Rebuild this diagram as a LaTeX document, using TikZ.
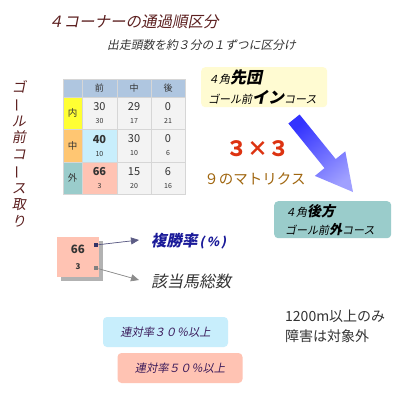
\documentclass[tikz,border=0pt]{standalone}
\usepackage{fontspec}
\usepackage{graphicx}
\newfontfamily\jp{Noto Sans CJK JP}
\newfontfamily\jpit[FakeSlant=0.2]{Noto Sans CJK JP}
\usetikzlibrary{arrows.meta,positioning,shadows}
\definecolor{titlered}{HTML}{5C1F1F}
\definecolor{darktext}{HTML}{333333}
\definecolor{headblue}{HTML}{AFC6E0}
\definecolor{cellgray}{HTML}{F3F3F3}
\definecolor{cellline}{HTML}{D6D6D6}
\definecolor{innyellow}{HTML}{FFFF33}
\definecolor{midorange}{HTML}{FFC672}
\definecolor{outteal}{HTML}{9ACCCB}
\definecolor{hiblue}{HTML}{C8EEFC}
\definecolor{hisalmon}{HTML}{FFC3B3}
\definecolor{paleyellow}{HTML}{FFFBD2}
\definecolor{mxred}{HTML}{DD3311}
\definecolor{mxbrown}{HTML}{A0660F}
\definecolor{arrowdark}{HTML}{3333FF}
\definecolor{arrowlight}{HTML}{A0A0FF}
\definecolor{rateblue}{HTML}{1A1A99}
\definecolor{markernavy}{HTML}{333366}
\definecolor{boxpurple}{HTML}{3A1A5A}
\tikzset{
  hdcell/.style={draw=cellline,fill=headblue,minimum height=18pt,inner sep=0pt,
    text=darktext,font=\jp\fontsize{9}{9}\selectfont},
  numcell/.style={draw=cellline,fill=cellgray,minimum width=34pt,minimum height=32.5pt,
    inner sep=0pt,align=center,text=darktext,font=\jp\fontsize{11}{13}\selectfont},
  rowlabel/.style={draw=cellline,minimum width=19pt,minimum height=32.5pt,inner sep=0pt,
    text=darktext,font=\jp\fontsize{9.5}{10}\selectfont},
  groupbox/.style={rounded corners=4pt,anchor=north west,align=left,
    inner ysep=0pt,text=black,font=\jpit\fontsize{11}{20}\selectfont},
  ratebox/.style={rounded corners=4pt,minimum width=125pt,minimum height=30pt,
    inner sep=0pt,text=boxpurple,font=\jpit\fontsize{11.3}{12}\selectfont},
  legarrow/.style={-{Triangle[length=8pt,width=7pt]},line width=0.7pt}
}
\newcommand{\cellval}[2]{#1\\{\fontsize{7}{13}\selectfont #2}}
\begin{document}
\begin{tikzpicture}[x=1pt,y=-1pt]
\useasboundingbox[fill=white] (0,0) rectangle (400,400);
% titles
\node[anchor=west,inner sep=0pt,text=titlered,font=\jpit\fontsize{15.5}{16}\selectfont]
  (title) at (48,22) {４コーナーの通過順区分};
\node[anchor=west,inner sep=0pt,text=darktext,font=\jpit\fontsize{11.8}{12}\selectfont]
  (subtitle) at (107,45) {出走頭数を約３分の１ずつに区分け};
\node[align=center,inner sep=0pt,text=titlered,font=\jpit\fontsize{14}{16.7}\selectfont]
  (side) at (19,154) {ゴ\\\rotatebox[origin=c]{90}{ー}\\ル\\前\\コ\\\rotatebox[origin=c]{90}{ー}\\ス\\取\\り};
% table
\node[hdcell,minimum width=19pt] (h0) at (72.5,88) {};
\node[hdcell,minimum width=35pt] (h1) at (99.5,88) {前};
\node[hdcell,minimum width=34pt] (h2) at (134,88) {中};
\node[hdcell,minimum width=34pt] (h3) at (168,88) {後};
\node[rowlabel,fill=innyellow] (r1) at (72.5,113) {内};
\node[rowlabel,fill=midorange] (r2) at (72.5,145.5) {中};
\node[rowlabel,fill=outteal] (r3) at (72.5,178) {外};
\node[numcell,minimum width=35pt] (c11) at (99.5,113) {\cellval{30}{30}};
\node[numcell] (c12) at (134,113) {\cellval{29}{17}};
\node[numcell] (c13) at (168,113) {\cellval{0}{21}};
\node[numcell,minimum width=35pt,fill=hiblue] (c21) at (99.5,145.5) {\cellval{\textbf{40}}{10}};
\node[numcell] (c22) at (134,145.5) {\cellval{30}{10}};
\node[numcell] (c23) at (168,145.5) {\cellval{0}{6}};
\node[numcell,minimum width=35pt,fill=hisalmon] (c31) at (99.5,178) {\cellval{\textbf{66}}{3}};
\node[numcell] (c32) at (134,178) {\cellval{15}{20}};
\node[numcell] (c33) at (168,178) {\cellval{6}{16}};
% corner groups and big arrow
\node[groupbox,fill=paleyellow,minimum width=126pt,minimum height=40pt,text width=112pt,inner xsep=7pt]
  (front) at (201,67) {４角{\bfseries\fontsize{16}{20}\selectfont 先団}\\ゴール前{\bfseries\fontsize{16}{20}\selectfont イン}コース};
\node[groupbox,fill=outteal,minimum width=117pt,minimum height=37pt,text width=95pt,inner xsep=11pt,
  font=\jpit\fontsize{11}{18}\selectfont]
  (back) at (274,201) {４角{\bfseries\fontsize{14}{18}\selectfont 後方}\\ゴール前{\bfseries\fontsize{13}{18}\selectfont 外}コース};
\shade[top color=arrowdark,bottom color=arrowlight,shading angle=39]
  (299.6,114.5) -- (335.7,159.1) -- (345.3,151.3) -- (353,192)
  -- (314.9,175.9) -- (324.5,168.1) -- (288.4,123.5) -- cycle;
\node[inner sep=0pt,text=mxred,font=\jp\bfseries\fontsize{21}{22}\selectfont] (mx) at (258,149) {３×３};
\node[inner sep=0pt,text=mxbrown,font=\jp\fontsize{14.5}{15}\selectfont] (mxnote) at (255,179) {９のマトリクス};
% legend
\node[fill=hisalmon,minimum width=42pt,minimum height=40pt,inner sep=0pt,align=center,
  text=darktext,font=\jp\fontsize{11.5}{16}\selectfont,
  drop shadow={shadow xshift=4pt,shadow yshift=-4pt,fill=black!30,opacity=1}]
  (legcell) at (78,257) {\textbf{66}\\{\fontsize{8}{16}\selectfont\textbf{3}}};
\node[fill=markernavy,minimum size=4.5pt,inner sep=0pt] (m1) at (96,245) {};
\node[fill=gray,minimum size=4.5pt,inner sep=0pt] (m2) at (96,268) {};
\node[anchor=west,inner sep=0pt,text=rateblue,font=\jpit\bfseries\fontsize{15.5}{16}\selectfont]
  (rate) at (151,241) {複勝率\kern2pt{\fontsize{12.5}{13}\selectfont(\,\%\,)}};
\node[anchor=west,inner sep=0pt,text=darktext,font=\jpit\fontsize{16}{17}\selectfont]
  (count) at (151,281) {該当馬総数};
\coordinate (t1) at (139,240);
\coordinate (t2) at (139,280);
\draw[legarrow,draw=markernavy!80,fill=markernavy!80] (m1) -- (t1);
\draw[legarrow,draw=gray!90,fill=gray!90] (m2) -- (t2);
% rate boxes and note
\node[ratebox,fill=hiblue] (r30) at (165.5,332) {連対率３０％以上};
\node[ratebox,fill=hisalmon] (r50) at (180,368) {連対率５０％以上};
\node[anchor=west,align=left,inner sep=0pt,text=darktext,font=\jp\fontsize{14}{20}\selectfont]
  (note) at (285,326) {1200m以上のみ\\障害は対象外};
\end{tikzpicture}
\end{document}
